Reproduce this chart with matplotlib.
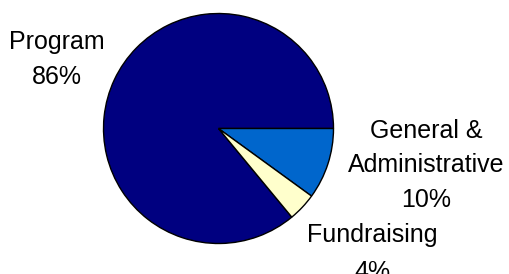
import matplotlib
matplotlib.use("Agg")
import matplotlib.pyplot as plt

categories = ["Program", "General &\nAdministrative", "Fundraising"]
values = [86, 10, 4]
colors = ["#000080", "#0066CC", "#FFFFCC"]

W, H = 509, 274
fig = plt.figure(figsize=(W / 100, H / 100), dpi=100)
ax = fig.add_axes([0, 0, 1, 1])

cx, cy, r = 218.5, H - 128.5, 115
startangle = 360 * values[0] / 100  # Program ends at 3 o'clock going clockwise
ax.pie(values, colors=colors, startangle=startangle, counterclock=False,
       center=(cx, cy), radius=r,
       wedgeprops=dict(edgecolor="black", linewidth=1.0))
ax.set_xlim(0, W)
ax.set_ylim(0, H)
ax.set_aspect("equal")
ax.axis("off")

# label anchor positions (pixel coords from top): x center, first baseline, line gap
label_pos = [(57, 49, 34.5), (426, 138, 34.5), (372, 242, 37)]
for cat, val, (lx, ly, gap) in zip(categories, values, label_pos):
    lines = cat.split("\n") + [f"{val}%"]
    for i, ln in enumerate(lines):
        ax.text(lx, H - (ly + i * gap), ln, ha="center", va="baseline",
                fontsize=18, family="Liberation Sans", color="black")

fig.savefig("out.png", dpi=100)
